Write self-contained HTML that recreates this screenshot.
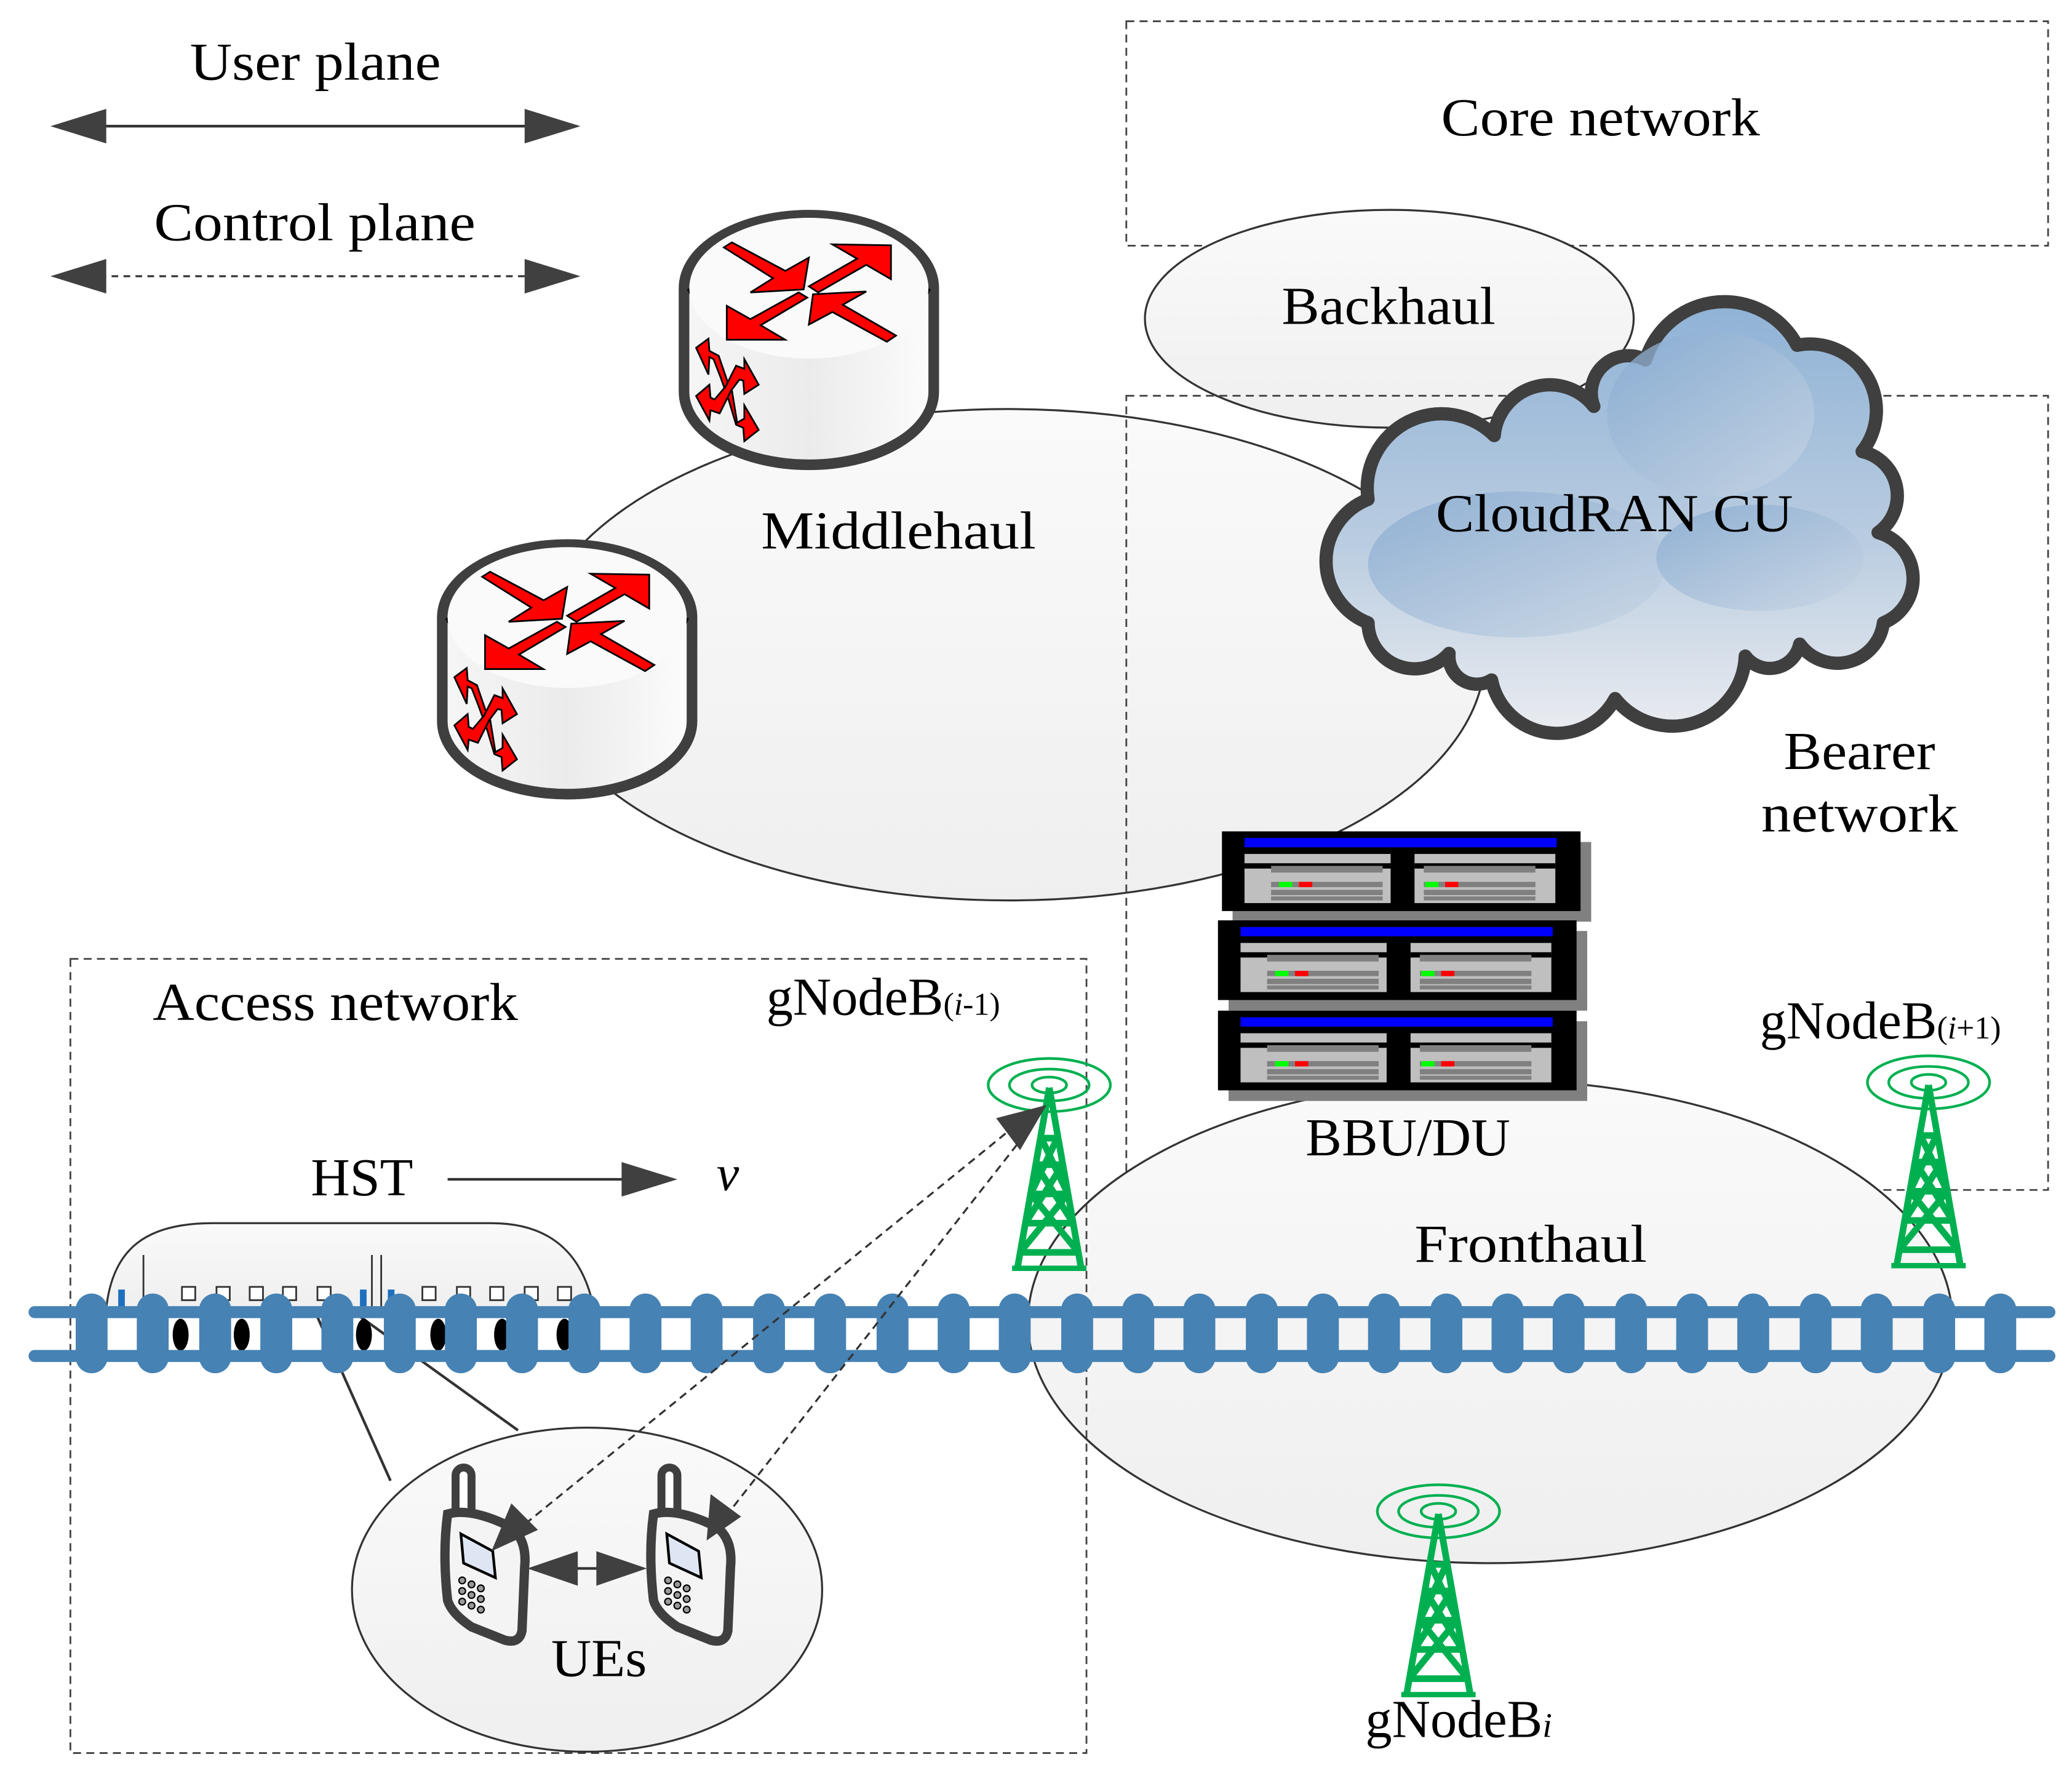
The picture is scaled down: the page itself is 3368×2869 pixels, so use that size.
<!DOCTYPE html>
<html><head><meta charset="utf-8"><style>html,body{margin:0;padding:0;background:#fff}svg{display:block}</style></head>
<body>
<svg width="3368" height="2869" viewBox="0 0 1560 1329" preserveAspectRatio="none" xmlns="http://www.w3.org/2000/svg" font-family="'Liberation Serif', serif" fill="#000">
<defs>
<linearGradient id="cyl" x1="0" x2="1" y1="0" y2="0"><stop offset="0" stop-color="#f6f6f6"/><stop offset="0.5" stop-color="#ebebeb"/><stop offset="1" stop-color="#fcfcfc"/></linearGradient>
<linearGradient id="ell" x1="0" x2="0" y1="0" y2="1"><stop offset="0" stop-color="#fafafa"/><stop offset="1" stop-color="#efefef"/></linearGradient>
<linearGradient id="cloudg" x1="0" x2="0" y1="0" y2="1"><stop offset="0" stop-color="#8fb2d6"/><stop offset="0.55" stop-color="#b9cce0"/><stop offset="1" stop-color="#eaecf0"/></linearGradient>
<linearGradient id="puff" x1="0" x2="1" y1="0" y2="1"><stop offset="0" stop-color="#85a9d0"/><stop offset="1" stop-color="#c9d6e4"/></linearGradient>
<g id="router">
<path d="M-94,0 L-94,78 A94,55 0 0 0 94,78 L94,0 A94,55 0 0 0 -94,0 Z" fill="url(#cyl)" stroke="#3f3f3f" stroke-width="8"/>
<path d="M-90,0 A94,55 0 0 0 90,0" fill="none" stroke="#000" stroke-width="4"/>
<path d="M-90,0 A90,53 0 0 1 90,0 A90,53 0 0 1 -90,0 Z" fill="#fafafa"/>
<g fill="#f00" stroke="#000" stroke-width="1.3" stroke-linejoin="miter">
<path d="M-64,-30.7 L-58,-34.5 L-17.7,-13 L0,-23 L-3.9,0.9 L-44,3.2 L-27,-7.5 Z"/>
<path d="M0,-1.4 L36.3,-22.2 L17.7,-33 L61.8,-32.3 L61.8,-6.8 L43.2,-17.6 L7,3.2 Z"/>
<path d="M-7.7,3.2 L-1.2,7.1 L-36.3,27.9 L-17.9,38.8 L-61.8,38.8 L-61.8,13.3 L-44,23.3 Z"/>
<path d="M3.1,4.6 L43.2,2.5 L25.5,12.5 L65.6,35.7 L58.7,40.3 L17.7,17.9 L0,27.4 Z"/>
<path d="M-84.9,44.9 L-75.6,38 L-74.9,47.2 L-67.9,50.9 L-61.8,68.8 L-57.9,77.3 L-54,101.3 L-48.6,98.2 L-48.6,88.2 L-37.8,106.7 L-48.6,115.2 L-49.4,105.1 L-54.8,102.8 L-60.3,84.3 L-66.4,67.3 L-71.8,53.4 L-74.9,51.9 L-75.6,65 Z"/>
<path d="M-84.9,81.2 L-74.9,72.7 L-74.1,82.3 L-71,83.8 L-62.6,73.9 L-54.8,58.4 L-48.6,60.7 L-48.6,53.4 L-37.8,72.7 L-48.6,79.6 L-49.4,69.6 L-52.3,68.8 L-58.7,77.3 L-67.2,94.3 L-74.1,91.9 L-74.9,99.7 Z"/>
</g>
</g>
<g id="server">
<rect x="8" y="8" width="270" height="60" fill="#808080"/>
<rect x="0" y="0" width="270" height="60" fill="#000"/>
<rect x="17" y="5" width="235" height="7" fill="#00f"/>
<rect x="17" y="17" width="110" height="37" fill="#bfbfbf"/>
<rect x="145" y="17" width="106" height="37" fill="#bfbfbf"/>
<rect x="17" y="24" width="110" height="4" fill="#000"/>
<rect x="145" y="24" width="106" height="4" fill="#000"/>
<rect x="37" y="26" width="84" height="5" fill="#808080"/><rect x="152" y="26" width="84" height="5" fill="#808080"/>
<rect x="37" y="38" width="84" height="4" fill="#808080"/><rect x="152" y="38" width="84" height="4" fill="#808080"/>
<rect x="37" y="44" width="84" height="4" fill="#808080"/><rect x="152" y="44" width="84" height="4" fill="#808080"/>
<rect x="37" y="49" width="84" height="3" fill="#808080"/><rect x="152" y="49" width="84" height="3" fill="#808080"/>
<rect x="43" y="38" width="10" height="4" fill="#0f0"/><rect x="58" y="38" width="10" height="4" fill="#f00"/>
<rect x="153" y="38" width="10" height="4" fill="#0f0"/><rect x="168" y="38" width="10" height="4" fill="#f00"/>
</g>
<g id="tower" stroke="#00b050" fill="none">
<ellipse cx="0" cy="0" rx="46" ry="20" stroke-width="2"/>
<ellipse cx="0" cy="0" rx="30" ry="12" stroke-width="2"/>
<ellipse cx="0" cy="0" rx="13" ry="6" stroke-width="2"/>
<path d="M0,2 L-24,138 M0,2 L24,138 M-6,40 L6,40 M-10,60 L10,60 M-14,82 L14,82 M-18,104 L18,104 M-22,126 L22,126 M-6,40 L14,82 M6,40 L-14,82 M-10,60 L18,104 M10,60 L-18,104 M-14,82 L22,126 M14,82 L-22,126" stroke-width="5"/>
<path d="M-28,138 L28,138" stroke-width="4"/>
</g>
<g id="phone">
<rect x="8" y="-5" width="12" height="40" rx="6" fill="#fff" stroke="#3f3f3f" stroke-width="6"/>
<path d="M2,30 Q20,25 50,40 Q62,50 60,70 L58,118 Q56,128 45,125 L20,115 Q5,105 2,95 Q-2,60 2,30 Z" fill="#f4f4f4" stroke="#3f3f3f" stroke-width="7"/>
<path d="M12,45 L36,58 L38,78 L14,67 Z" fill="#dde6f2" stroke="#000" stroke-width="2"/>
<g fill="#999" stroke="#000" stroke-width="1">
<circle cx="13" cy="80" r="2.5"/><circle cx="20" cy="83" r="2.5"/><circle cx="27" cy="86" r="2.5"/>
<circle cx="13" cy="88" r="2.5"/><circle cx="20" cy="91" r="2.5"/><circle cx="27" cy="94" r="2.5"/>
<circle cx="13" cy="96" r="2.5"/><circle cx="20" cy="99" r="2.5"/><circle cx="27" cy="102" r="2.5"/>
</g>
</g>
</defs>

<!-- legend -->
<text x="143" y="60" font-size="40" textLength="189" lengthAdjust="spacingAndGlyphs">User plane</text>
<line x1="75" y1="95" x2="400" y2="95" stroke="#333" stroke-width="2"/>
<polygon points="38,95 80,82 80,108" fill="#404040"/><polygon points="437,95 395,82 395,108" fill="#404040"/>
<text x="116" y="181" font-size="40" textLength="242" lengthAdjust="spacingAndGlyphs">Control plane</text>
<line x1="75" y1="208" x2="400" y2="208" stroke="#333" stroke-width="1.5" stroke-dasharray="5,4"/>
<polygon points="38,208 80,195 80,221" fill="#404040"/><polygon points="437,208 395,195 395,221" fill="#404040"/>

<!-- core -->
<rect x="848" y="16" width="694" height="169" fill="none" stroke="#444" stroke-width="1.3" stroke-dasharray="6,4"/>
<text x="1085" y="102" font-size="40" textLength="240" lengthAdjust="spacingAndGlyphs">Core network</text>
<ellipse cx="1046" cy="240" rx="184" ry="82" fill="url(#ell)" stroke="#333" stroke-width="1.5"/>
<text x="965" y="244" font-size="40" textLength="161" lengthAdjust="spacingAndGlyphs">Backhaul</text>

<!-- middlehaul -->
<ellipse cx="759" cy="493" rx="359" ry="185" fill="url(#ell)" stroke="#333" stroke-width="1.5"/>
<text x="573" y="413" font-size="40" textLength="207" lengthAdjust="spacingAndGlyphs">Middlehaul</text>

<!-- bearer -->
<rect x="848" y="298" width="694" height="598" fill="none" stroke="#444" stroke-width="1.3" stroke-dasharray="6,4"/>
<text x="1343" y="579" font-size="40" textLength="114" lengthAdjust="spacingAndGlyphs">Bearer</text>
<text x="1326" y="626" font-size="40" textLength="148" lengthAdjust="spacingAndGlyphs">network</text>

<!-- routers -->
<use href="#router" x="609" y="217"/>
<use href="#router" x="427" y="465"/>

<!-- cloud -->
<path d="M1030,469 A50,50 0 0 1 1030,376 A56,56 0 0 1 1125,328 A42,42 0 0 1 1200,306 A28,28 0 0 1 1239,271 A62,62 0 0 1 1353,260 A50,50 0 0 1 1402,340 A34,34 0 0 1 1414,401 A36,36 0 0 1 1418,469 A35,35 0 0 1 1355,485 A23,23 0 0 1 1314,494 A55,55 0 0 1 1216,526 A50,50 0 0 1 1123,512 A21,21 0 0 1 1091,492 A35,35 0 0 1 1030,469 Z" fill="url(#cloudg)" stroke="#3f3f3f" stroke-width="10" stroke-linejoin="round"/>
<g fill="url(#puff)" opacity="0.75">
<ellipse cx="1288" cy="312" rx="78" ry="62"/>
<ellipse cx="1142" cy="425" rx="112" ry="55"/>
<ellipse cx="1325" cy="420" rx="78" ry="40"/>
</g>
<text x="1081" y="400" font-size="40" textLength="269" lengthAdjust="spacingAndGlyphs">CloudRAN CU</text>

<!-- fronthaul -->
<ellipse cx="1122" cy="995" rx="348" ry="182" fill="url(#ell)" stroke="#333" stroke-width="1.5"/>
<text x="1065" y="950" font-size="40" textLength="175" lengthAdjust="spacingAndGlyphs">Fronthaul</text>

<!-- servers -->
<use href="#server" x="920" y="626"/>
<use href="#server" x="917" y="693"/>
<use href="#server" x="917" y="761"/>
<text x="983" y="870" font-size="40" textLength="154" lengthAdjust="spacingAndGlyphs">BBU/DU</text>

<!-- access -->
<rect x="53" y="722" width="765" height="598" fill="none" stroke="#444" stroke-width="1.3" stroke-dasharray="6,4"/>
<text x="115" y="768" font-size="40" textLength="275" lengthAdjust="spacingAndGlyphs">Access network</text>
<text x="577" y="764" font-size="40">gNodeB<tspan font-size="24">(<tspan font-style="italic">i</tspan>-1)</tspan></text>
<text x="1325" y="782" font-size="40">gNodeB<tspan font-size="24">(<tspan font-style="italic">i</tspan>+1)</tspan></text>
<text x="1028" y="1308" font-size="40">gNodeB<tspan font-size="26" font-style="italic">i</tspan></text>

<!-- HST -->
<text x="234" y="900" font-size="40" textLength="77" lengthAdjust="spacingAndGlyphs">HST</text>
<line x1="337" y1="888" x2="475" y2="888" stroke="#333" stroke-width="2"/>
<polygon points="510,888 468,875 468,901" fill="#404040"/>
<text x="548" y="896" font-size="38" font-style="italic" text-anchor="middle">v</text>

<!-- UEs ellipse -->
<line x1="228" y1="967" x2="294" y2="1115" stroke="#333" stroke-width="2"/>
<line x1="240" y1="969" x2="390" y2="1077" stroke="#333" stroke-width="2"/>
<ellipse cx="442" cy="1197" rx="177" ry="122" fill="url(#ell)" stroke="#333" stroke-width="1.5"/>
<text x="415" y="1262" font-size="40" textLength="72" lengthAdjust="spacingAndGlyphs">UEs</text>

<!-- train -->
<path d="M80,985 C85,940 110,921 160,921 L370,921 C420,921 440,950 447,985 Z" fill="url(#ell)" stroke="#333" stroke-width="1.5"/>
<g fill="#fff" stroke="#333" stroke-width="1.3">
<rect x="137" y="969" width="10" height="10"/><rect x="163" y="969" width="10" height="10"/><rect x="188" y="969" width="10" height="10"/><rect x="213" y="969" width="10" height="10"/><rect x="239" y="969" width="10" height="10"/>
<rect x="318" y="969" width="10" height="10"/><rect x="344" y="969" width="10" height="10"/><rect x="369" y="969" width="10" height="10"/><rect x="395" y="969" width="10" height="10"/><rect x="420" y="969" width="10" height="10"/>
</g>
<line x1="108" y1="945" x2="108" y2="985" stroke="#333" stroke-width="1.3"/>
<line x1="280" y1="945" x2="280" y2="985" stroke="#333" stroke-width="1.3"/><line x1="287" y1="945" x2="287" y2="985" stroke="#333" stroke-width="1.3"/>
<rect x="89" y="971" width="5" height="20" fill="#1f6fbf"/><rect x="271" y="971" width="5" height="20" fill="#1f6fbf"/><rect x="292" y="971" width="5" height="10" fill="#1f6fbf"/>
<g fill="#000"><ellipse cx="136" cy="1005" rx="6" ry="12"/><ellipse cx="182" cy="1005" rx="6" ry="12"/><ellipse cx="274" cy="1005" rx="6" ry="12"/><ellipse cx="330" cy="1005" rx="6" ry="12"/><ellipse cx="378" cy="1005" rx="6" ry="12"/><ellipse cx="425" cy="1005" rx="6" ry="12"/></g>

<!-- rails -->
<g stroke="#4682b4" stroke-linecap="round">
<line x1="26" y1="988" x2="1543" y2="988" stroke-width="9"/>
<line x1="26" y1="1021" x2="1543" y2="1021" stroke-width="9"/>
</g>
<g fill="#4682b4">
<rect x="57" y="974" width="24" height="60" rx="12"/><rect x="103" y="974" width="24" height="60" rx="12"/><rect x="150" y="974" width="24" height="60" rx="12"/><rect x="196" y="974" width="24" height="60" rx="12"/><rect x="242" y="974" width="24" height="60" rx="12"/><rect x="289" y="974" width="24" height="60" rx="12"/><rect x="335" y="974" width="24" height="60" rx="12"/><rect x="381" y="974" width="24" height="60" rx="12"/><rect x="428" y="974" width="24" height="60" rx="12"/><rect x="474" y="974" width="24" height="60" rx="12"/><rect x="520" y="974" width="24" height="60" rx="12"/><rect x="567" y="974" width="24" height="60" rx="12"/><rect x="613" y="974" width="24" height="60" rx="12"/><rect x="660" y="974" width="24" height="60" rx="12"/><rect x="706" y="974" width="24" height="60" rx="12"/><rect x="752" y="974" width="24" height="60" rx="12"/><rect x="799" y="974" width="24" height="60" rx="12"/><rect x="845" y="974" width="24" height="60" rx="12"/><rect x="891" y="974" width="24" height="60" rx="12"/><rect x="938" y="974" width="24" height="60" rx="12"/><rect x="984" y="974" width="24" height="60" rx="12"/><rect x="1030" y="974" width="24" height="60" rx="12"/><rect x="1077" y="974" width="24" height="60" rx="12"/><rect x="1123" y="974" width="24" height="60" rx="12"/><rect x="1169" y="974" width="24" height="60" rx="12"/><rect x="1216" y="974" width="24" height="60" rx="12"/><rect x="1262" y="974" width="24" height="60" rx="12"/><rect x="1308" y="974" width="24" height="60" rx="12"/><rect x="1355" y="974" width="24" height="60" rx="12"/><rect x="1401" y="974" width="24" height="60" rx="12"/><rect x="1448" y="974" width="24" height="60" rx="12"/><rect x="1494" y="974" width="24" height="60" rx="12"/>
</g>

<!-- towers -->
<use href="#tower" x="790" y="817"/>
<use href="#tower" x="1452" y="815"/>
<use href="#tower" x="1083" y="1138"/>

<!-- phones -->
<use href="#phone" x="335" y="1110"/>
<use href="#phone" x="490" y="1110"/>

<!-- links -->
<line x1="380" y1="1160" x2="770" y2="843" stroke="#333" stroke-width="1.5" stroke-dasharray="6,4"/>
<line x1="540" y1="1150" x2="775" y2="850" stroke="#333" stroke-width="1.5" stroke-dasharray="6,4"/>
<polygon points="788,832 750,842 768,866" fill="#404040"/>
<polygon points="370,1168 385,1132 405,1152" fill="#404040"/>
<polygon points="532,1160 535,1125 558,1142" fill="#404040"/>
<line x1="420" y1="1181" x2="465" y2="1181" stroke="#333" stroke-width="2"/>
<polygon points="397,1181 435,1168 435,1194" fill="#404040"/>
<polygon points="487,1181 449,1168 449,1194" fill="#404040"/>
</svg>
</body></html>
